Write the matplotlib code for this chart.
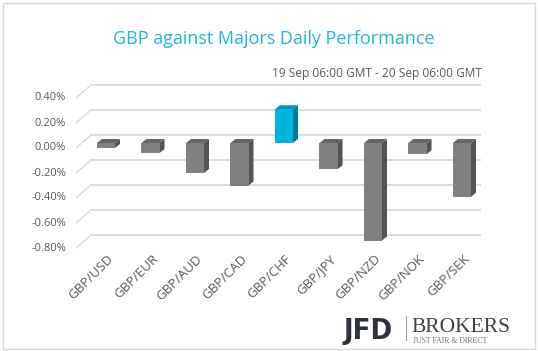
import numpy as np
import matplotlib
matplotlib.use("Agg")
from matplotlib import pyplot as plt
from matplotlib.patches import Polygon, Rectangle

# data (daily % change of GBP vs majors)
pairs = ["GBP/USD", "GBP/EUR", "GBP/AUD", "GBP/CAD", "GBP/CHF",
         "GBP/JPY", "GBP/NZD", "GBP/NOK", "GBP/SEK"]
changes = [-0.04, -0.08, -0.24, -0.34, 0.27, -0.21, -0.78, -0.09, -0.43]
yticks = [0.4, 0.2, 0.0, -0.2, -0.4, -0.6, -0.8]

title = "GBP against Majors Daily Performance"
subtitle = "19 Sep 06:00 GMT - 20 Sep 06:00 GMT"

W, H = 538, 351
fig = plt.figure(figsize=(W / 100, H / 100), dpi=100)
plt.rcParams['font.family'] = ['Open Sans', 'DejaVu Sans']

# axes placed in pixels
ax_l, ax_r, ax_t, ax_b = 76, 481, 80, 250
ax = fig.add_axes([ax_l / W, 1 - ax_b / H, (ax_r - ax_l) / W, (ax_b - ax_t) / H])
ax.set_xlim(-0.674, 8.427)
ax.set_ylim(-0.856, 0.504)
ax.axis("off")

# pixel -> data helpers for the 3D look
px_x = (8.427 + 0.674) / (ax_r - ax_l)
px_y = (0.504 + 0.856) / (ax_b - ax_t)
back_off = 8 * px_y      # back wall sits above the bar front
front_off = 5 * px_y     # side wall front edge below the bar front
wall_dx = 15 * px_x
grid_col = "#d9d9d9"

x0 = ax.get_xlim()[0]
for v in yticks:
    ax.plot([x0, x0 + wall_dx], [v - front_off, v + back_off], color=grid_col, lw=1, zorder=1)
    ax.plot([x0 + wall_dx, ax.get_xlim()[1]], [v + back_off, v + back_off], color=grid_col,
            lw=1.3, zorder=1)
    ax.text(x0 - 10 * px_x, v - front_off, f"{v:.2f}%", ha="right", va="center",
            fontsize=8, color="#595959", clip_on=False)

# bars with side and top faces
bw = 0.405
ddx, ddy = 5 * px_x, 4 * px_y
x = np.arange(len(pairs))
for i, v in enumerate(changes):
    if pairs[i] == "GBP/CHF":
        front, side, top = "#00b4e0", "#007d96", "#0094b8"
    else:
        front, side, top = "#808080", "#545454", "#666666"
    lo, hi = min(0, v), max(0, v)
    xl, xr = x[i] - bw / 2, x[i] + bw / 2
    ax.add_patch(Polygon([(xr, lo), (xr + ddx, lo + ddy), (xr + ddx, hi + ddy), (xr, hi)],
                         closed=True, fc=side, ec="none", zorder=3))
    ax.add_patch(Polygon([(xl, hi), (xl + ddx, hi + ddy), (xr + ddx, hi + ddy), (xr, hi)],
                         closed=True, fc=top, ec="none", zorder=3))
    ax.add_patch(Rectangle((xl, lo), bw, hi - lo, fc=front, ec="none", zorder=3))

# category labels
for i, p in enumerate(pairs):
    ax.text(x[i] + 0.02, -0.875, p, rotation=45, ha="right", va="top",
            rotation_mode="anchor", fontsize=9.5, color="#595959", clip_on=False)

fig.text(274 / W, 1 - 39 / H, title, ha="center", va="center", fontsize=13, color="#1fb4e2")
fig.text(482 / W, 1 - 73 / H, subtitle, ha="right", va="center", fontsize=8.6, color="#595959")

# logo
fig.text(344 / W, 1 - 339 / H, "JFD", ha="left", va="baseline", fontsize=21, fontweight="bold",
         fontstretch="condensed", color="#2e333b", family=["DejaVu Sans"])
fig.add_artist(plt.Line2D([406 / W, 406 / W], [1 - 340 / H, 1 - 316 / H], color="#9a9ea4", lw=0.8))
fig.text(411 / W, 1 - 332 / H, "BROKERS", ha="left", va="baseline", fontsize=15.5,
         color="#3d424a", family=["Liberation Serif"])
fig.text(413 / W, 1 - 343 / H, "JUST FAIR & DIRECT", ha="left", va="baseline", fontsize=5.6,
         color="#6a6e74", family=["Liberation Serif"])

# outer border
fig.add_artist(Rectangle((2.5 / W, 1 - 348.5 / H), 532.5 / W, 346 / H, transform=fig.transFigure,
                         fill=False, ec="#d9d9d9", lw=1))

fig.savefig("out.png", dpi=100)
